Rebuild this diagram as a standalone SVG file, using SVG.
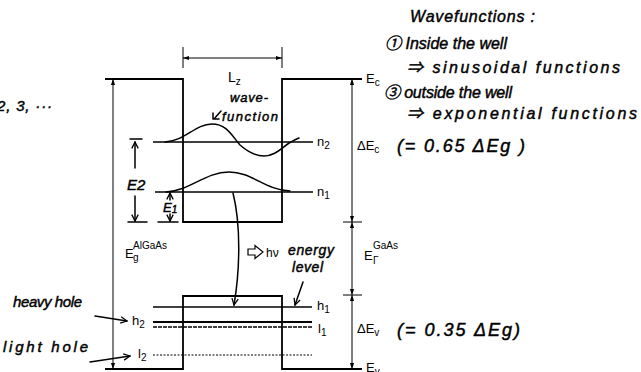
<svg xmlns="http://www.w3.org/2000/svg" width="641" height="372" viewBox="0 0 641 372">
<style>
.ln{fill:none;stroke:#000;stroke-width:1.8}
.lv{fill:none;stroke:#000;stroke-width:1.5}
.dm{fill:none;stroke:#000;stroke-width:1}
.hwl{fill:none;stroke:#000;stroke-width:1.5;stroke-linecap:round;stroke-linejoin:round}
.lbl{font-family:"Liberation Sans",Arial,sans-serif;font-size:13px;fill:#000}
.sm{font-size:10px}
.hw{font-family:"Liberation Sans",Arial,"Noto Sans CJK JP",sans-serif;font-style:italic;font-size:15px;fill:#000;stroke:#000;stroke-width:0.45}
.hr{font-size:16px}
</style>
<defs>
<marker id="ah" viewBox="0 0 10 10" refX="10" refY="5" markerWidth="6" markerHeight="7" orient="auto-start-reverse" markerUnits="userSpaceOnUse">
<path d="M0,1.5 L10,5 L0,8.5 Z" fill="#000"/>
</marker>
<marker id="hv" viewBox="0 0 10 10" refX="9" refY="5" markerWidth="8" markerHeight="8" orient="auto" markerUnits="userSpaceOnUse">
<path d="M1,1 L9,5 L1,9" fill="none" stroke="#000" stroke-width="1.6"/>
</marker>
</defs>
<rect width="641" height="372" fill="#fff"/>

<g id="conduction-band">
<path class="ln" d="M105,79 H183 V222 H282 V79 H362"/>
</g>
<g id="valence-band">
<path class="ln" d="M105,369 H183 V296 H282 V369 H362"/>
</g>

<g id="levels">
<path class="lv" d="M153,142 H313"/>
<path class="lv" d="M155,192 H313"/>
<path class="lv" d="M153,307 H312"/>
<path class="ln" d="M153,322 H312" style="stroke-width:2"/>
<path class="lv" d="M153,327 H312" style="stroke-dasharray:4 1;stroke-width:1.4"/>
<path class="lv" d="M153,355 H312" style="stroke-dasharray:2 1.5;stroke-width:1.2"/>
</g>

<g id="wavefunctions">
<path class="hwl" d="M165,142 C185,141 195,124 212,124 C227,124 232,136 240,145 C248,152 255,156 264,156 C276,156 283,146 291,142 C294,140 296,139 299,138"/>
<path class="hwl" d="M166,192 C190,191 205,172 229,172 C252,172 265,190 290,191"/>
</g>

<g id="connectors">
<path class="dm" d="M183,58 H282" marker-start="url(#ah)" marker-end="url(#ah)"/>
<path class="dm" d="M183,47 V68 M282,47 V68"/>
<path class="dm" d="M113,79 V369" marker-start="url(#ah)" marker-end="url(#ah)"/>
<path class="dm" d="M352,79 V222" marker-start="url(#ah)" marker-end="url(#ah)"/>
<path class="dm" d="M352,222 V295" marker-start="url(#ah)" marker-end="url(#ah)"/>
<path class="dm" d="M352,295 V369" marker-start="url(#ah)" marker-end="url(#ah)"/>
<path class="dm" d="M343,222 H362 M343,295 H362"/>
<path class="hwl" d="M135,168 V142" marker-end="url(#hv)"/>
<path class="hwl" d="M130,139 H142"/>
<path class="hwl" d="M135,196 V221" marker-end="url(#hv)"/>
<path class="hwl" d="M128,222 H147"/>
<path class="hwl" d="M170,200 V193" marker-end="url(#hv)"/>
<path class="hwl" d="M170,214 V221" marker-end="url(#hv)"/>
<path class="hwl" d="M158,222 H178"/>
<path class="hwl" d="M233,193 C241,225 240,270 234,305" marker-end="url(#hv)"/>
<path class="hwl" d="M303,282 L295,305" marker-end="url(#hv)"/>
<path class="hwl" d="M95,316 L127,321" marker-end="url(#hv)"/>
<path class="hwl" d="M90,362 L130,356" marker-end="url(#hv)"/>
<path class="hwl" d="M221,111 L214,119 M213,113 L213,119 L219,119"/>
<path d="M248,249 H255 V245.5 L263,252 L255,258.5 V255 H248 Z" fill="none" stroke="#000" stroke-width="1.2"/>
</g>

<g id="labels">
<text class="lbl" x="228" y="82" style="font-size:14px">L<tspan class="sm" dy="3">z</tspan></text>
<text class="lbl" x="366" y="83">E<tspan class="sm" dy="3">c</tspan></text>
<text class="lbl" x="357" y="150">ΔE<tspan class="sm" dy="3">c</tspan></text>
<text class="lbl" x="357" y="333">ΔE<tspan class="sm" dy="3">v</tspan></text>
<text class="lbl" x="366" y="372">E<tspan class="sm" dy="3">v</tspan></text>
<text class="lbl" x="364" y="260">E</text>
<text class="lbl sm" x="373" y="249">GaAs</text>
<text class="lbl sm" x="373" y="264">Γ</text>
<text class="lbl" x="125" y="258">E</text>
<text class="lbl sm" x="133" y="249">AlGaAs</text>
<text class="lbl sm" x="133" y="261">g</text>
<text class="lbl" x="317" y="146">n<tspan class="sm" dy="3">2</tspan></text>
<text class="lbl" x="317" y="196">n<tspan class="sm" dy="3">1</tspan></text>
<text class="lbl" x="317" y="310">h<tspan class="sm" dy="3">1</tspan></text>
<text class="lbl" x="318" y="333">l<tspan class="sm" dy="3">1</tspan></text>
<text class="lbl" x="132" y="325">h<tspan class="sm" dy="3">2</tspan></text>
<text class="lbl" x="138" y="358">l<tspan class="sm" dy="3">2</tspan></text>
<text class="lbl" x="266" y="257" style="font-size:12px">hν</text>
</g>

<g id="handwriting">
<text class="hw" x="230" y="102" textLength="38" style="font-size:13px">wave-</text>
<text class="hw" x="222" y="121" textLength="56" style="font-size:13px">function</text>
<text class="hw" x="127" y="190" style="font-size:15px">E2</text>
<text class="hw" x="163" y="212" style="font-size:13px">E<tspan dy="1" style="font-size:10px">1</tspan></text>
<text class="hw" x="288" y="255" textLength="46" style="font-size:14px">energy</text>
<text class="hw" x="292" y="272" textLength="31" style="font-size:14px">level</text>
<text class="hw" x="13" y="307" textLength="69">heavy hole</text>
<text class="hw" x="3" y="352" textLength="85">light hole</text>
<text class="hw" x="-3" y="111" textLength="55">2, 3, ···</text>
<text class="hw hr" x="410" y="22" textLength="125">Wavefunctions :</text>
<text class="hw hr" x="385" y="49" textLength="122">① Inside the well</text>
<text class="hw hr" x="407" y="73" textLength="213">⇒ sinusoidal functions</text>
<text class="hw hr" x="384" y="98" textLength="128">③ outside the well</text>
<text class="hw hr" x="407" y="119" textLength="230">⇒ exponential functions</text>
<text class="hw" x="397" y="152" textLength="128" style="font-size:18px">(= 0.65 ΔEg )</text>
<text class="hw" x="397" y="336" textLength="123" style="font-size:18px">(= 0.35 ΔEg)</text>
</g>
</svg>
